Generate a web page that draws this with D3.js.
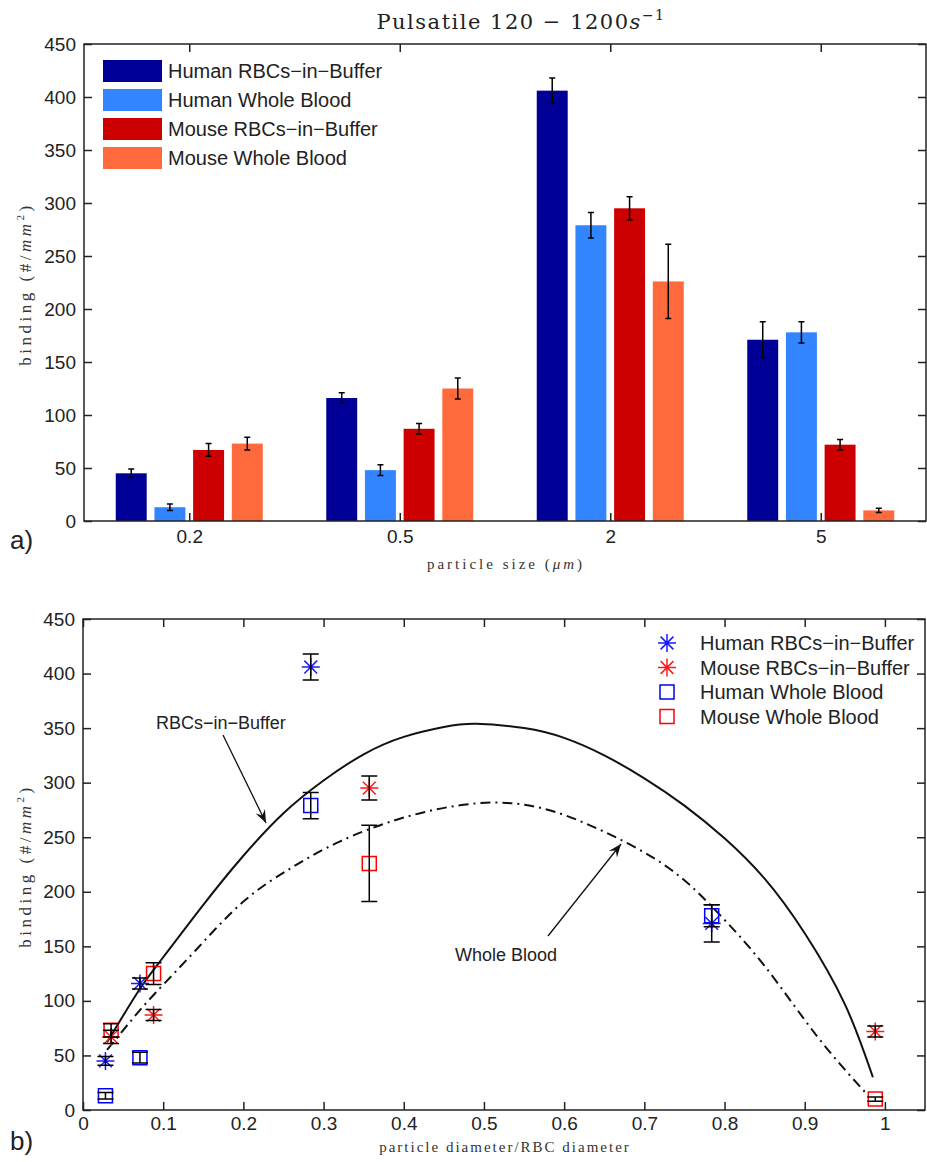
<!DOCTYPE html>
<html>
  <head>
    <meta charset="UTF-8" />
    <style>
      body { margin: 0; background: #fff; }
      svg { display: block; }
      .tick text { font-family: "Liberation Sans", Arial, sans-serif; font-size: 19px; fill: #222; }
      .lbl { font-family: "Liberation Serif", "DejaVu Serif", serif; fill: #333; }
      .sans { font-family: "Liberation Sans", Arial, sans-serif; fill: #222; }
    </style>
  </head>
  <body>
    <svg></svg>
    <script src="https://d3js.org/d3.v7.min.js"></script>
    <script>
      let width = 927,
        height = 1162;

      // data: particle sizes and binding per group (panel a)
      const sizes = ["0.2", "0.5", "2", "5"];
      const series = [
        "Human RBCs\u2212in\u2212Buffer",
        "Human Whole Blood",
        "Mouse RBCs\u2212in\u2212Buffer",
        "Mouse Whole Blood",
      ];
      const humanRBC = [45, 116, 406, 171];
      const humanRBCErr = [4, 5, 12, 17];
      const humanWB = [13, 48, 279, 178];
      const humanWBErr = [3, 5, 12, 10];
      const mouseRBC = [67, 87, 295, 72];
      const mouseRBCErr = [6, 5, 11, 5];
      const mouseWB = [73, 125, 226, 10];
      const mouseWBErr = [6, 10, 35, 2];

      // panel b: particle diameter / RBC diameter
      const humanRatio = [0.028, 0.071, 0.284, 0.784];
      const mouseRatio = [0.035, 0.088, 0.357, 0.988];

      // fitted curves
      const rbcFitX = [0.03, 0.07, 0.1, 0.15, 0.2, 0.25, 0.3, 0.35, 0.4, 0.45, 0.49, 0.55, 0.6, 0.65, 0.7, 0.75, 0.8, 0.85, 0.9, 0.95, 0.985];
      const rbcFitY = [62, 110, 140, 188, 233, 272, 302, 326, 342, 351, 354, 350, 341, 325, 304, 279, 249, 212, 162, 97, 30];
      const wbFitX = [0.03, 0.06, 0.09, 0.14, 0.2, 0.26, 0.32, 0.4, 0.49, 0.57, 0.65, 0.73, 0.79, 0.85, 0.915, 0.977];
      const wbFitY = [55, 82, 107, 146, 191, 222, 246, 268, 281, 277, 255, 222, 182, 132, 68, 15];

      const yTicks = [0, 50, 100, 150, 200, 250, 300, 350, 400, 450];
      const xTicksB = [0, 0.1, 0.2, 0.3, 0.4, 0.5, 0.6, 0.7, 0.8, 0.9, 1];

      const barColors = ["#000096", "#3385ff", "#cc0000", "#ff6a3d"];
      const barVals = [humanRBC, humanWB, mouseRBC, mouseWB];
      const barErrs = [humanRBCErr, humanWBErr, mouseRBCErr, mouseWBErr];

      let svg = d3.select("svg").attr("width", width).attr("height", height);

      // ---------- panel a ----------
      const xA = d3.scalePoint().domain(sizes).range([84, 926]).padding(0.5);
      const xInner = d3.scaleBand().domain(series).range([-73.5, 73.5]).paddingInner(0.2);
      const yA = d3.scaleLinear().domain([0, 450]).range([521, 44]);

      let gA = svg.append("g");
      series.forEach((s, si) => {
        let g = gA.append("g");
        g.selectAll("rect")
          .data(sizes)
          .enter()
          .append("rect")
          .attr("x", (d) => xA(d) + xInner(s))
          .attr("width", xInner.bandwidth())
          .attr("y", (d, i) => yA(barVals[si][i]))
          .attr("height", (d, i) => yA(0) - yA(barVals[si][i]))
          .attr("fill", barColors[si]);
        // error bars
        g.selectAll("path")
          .data(sizes)
          .enter()
          .append("path")
          .attr("d", (d, i) => {
            let cx = xA(d) + xInner(s) + xInner.bandwidth() / 2;
            let t = yA(barVals[si][i] + barErrs[si][i]);
            let b = yA(barVals[si][i] - barErrs[si][i]);
            return `M${cx},${t}V${b}M${cx - 3},${t}H${cx + 3}M${cx - 3},${b}H${cx + 3}`;
          })
          .attr("stroke", "#000")
          .attr("stroke-width", 1.5)
          .attr("fill", "none");
      });

      function box(x0, x1, y0, y1) {
        svg.append("rect")
          .attr("x", x0).attr("y", y0)
          .attr("width", x1 - x0).attr("height", y1 - y0)
          .attr("fill", "none").attr("stroke", "#222").attr("stroke-width", 1.5);
      }

      svg.append("g").attr("transform", "translate(84,0)")
        .call(d3.axisLeft(yA).tickValues(yTicks).tickSize(-8).tickPadding(8))
        .call((g) => g.select(".domain").remove());
      svg.append("g").attr("transform", "translate(926,0)")
        .call(d3.axisRight(yA).tickValues(yTicks).tickSize(-8).tickFormat(""))
        .call((g) => g.select(".domain").remove());
      svg.append("g").attr("transform", "translate(0,521)")
        .call(d3.axisBottom(xA).tickSize(-8).tickPadding(9))
        .call((g) => g.select(".domain").remove());
      svg.append("g").attr("transform", "translate(0,44)")
        .call(d3.axisTop(xA).tickSize(-8).tickFormat(""))
        .call((g) => g.select(".domain").remove());
      box(84, 926, 44, 521);
      svg.selectAll(".tick line").attr("stroke", "#222").attr("stroke-width", 1.5);

      // legend a
      let legA = svg.append("g");
      series.forEach((s, i) => {
        legA.append("rect")
          .attr("x", 103).attr("y", 60 + i * 29)
          .attr("width", 59).attr("height", 22)
          .attr("fill", barColors[i]);
        legA.append("text").attr("class", "sans")
          .attr("x", 168).attr("y", 71 + i * 29)
          .attr("dominant-baseline", "central")
          .style("font-size", "20px")
          .text(s);
      });

      // title
      let title = svg.append("text").attr("x", 521).attr("y", 29)
        .attr("text-anchor", "middle")
        .style("font-family", "'DejaVu Serif', serif")
        .style("letter-spacing", "1.5px")
        .style("font-size", "21px").style("fill", "#222");
      title.append("tspan").text("Pulsatile 120 \u2212 1200");
      title.append("tspan").style("font-style", "italic").text("s");
      title.append("tspan").attr("dy", -9).style("font-size", "14px").text("\u22121");

      // axis labels a
      let xlA = svg.append("text").attr("class", "lbl").attr("x", 506).attr("y", 569)
        .attr("text-anchor", "middle").style("font-size", "15px").style("letter-spacing", "3px");
      xlA.append("tspan").text("particle size (");
      xlA.append("tspan").style("font-style", "italic").text("\u03bcm");
      xlA.append("tspan").text(")");

      function yLabel(cy) {
        let t = svg.append("text").attr("class", "lbl")
          .attr("transform", `translate(31,${cy}) rotate(-90)`)
          .attr("text-anchor", "middle").style("font-size", "17px").style("letter-spacing", "3.5px");
        t.append("tspan").text("binding (#/");
        t.append("tspan").style("font-style", "italic").text("mm");
        t.append("tspan").attr("dy", -7).style("font-size", "11px").text("2");
        t.append("tspan").attr("dy", 7).text(")");
      }
      yLabel(284);

      svg.append("text").attr("class", "sans").attr("x", 10).attr("y", 549)
        .style("font-size", "26px").text("a)");

      // ---------- panel b ----------
      const xB = d3.scaleLinear().domain([0, 1.05]).range([83, 925]);
      const yB = d3.scaleLinear().domain([0, 450]).range([1110, 619]);

      const line = d3.line().curve(d3.curveNatural)
        .x((d) => xB(d[0])).y((d) => yB(d[1]));

      svg.append("path")
        .attr("d", line(d3.zip(rbcFitX, rbcFitY)))
        .attr("fill", "none").attr("stroke", "#111").attr("stroke-width", 2);
      svg.append("path")
        .attr("d", line(d3.zip(wbFitX, wbFitY)))
        .attr("fill", "none").attr("stroke", "#111").attr("stroke-width", 2)
        .attr("stroke-dasharray", "10,5,2,5");

      const points = [
        { name: series[0], x: humanRatio, y: humanRBC, e: humanRBCErr, color: "#1a1aff", marker: "star" },
        { name: series[2], x: mouseRatio, y: mouseRBC, e: mouseRBCErr, color: "#ff1a1a", marker: "star" },
        { name: series[1], x: humanRatio, y: humanWB, e: humanWBErr, color: "#0000ff", marker: "square" },
        { name: series[3], x: mouseRatio, y: mouseWB, e: mouseWBErr, color: "#ff0000", marker: "square" },
      ];

      function markerPath(type, cx, cy) {
        if (type == "square") {
          return `M${cx - 7},${cy - 7}h14v14h-14Z`;
        }
        let r = 9, a = 6.4;
        return `M${cx - r},${cy}H${cx + r}M${cx},${cy - r}V${cy + r}M${cx - a},${cy - a}L${cx + a},${cy + a}M${cx - a},${cy + a}L${cx + a},${cy - a}`;
      }

      let gB = svg.append("g");
      points.forEach((p) => {
        gB.append("g").selectAll("path")
          .data(p.y)
          .enter()
          .append("path")
          .attr("d", (d, i) => markerPath(p.marker, xB(p.x[i]), yB(d)))
          .attr("fill", "none").attr("stroke", p.color).attr("stroke-width", 1.5);
      });
      points.forEach((p) => {
        gB.append("g").selectAll("path")
          .data(p.y)
          .enter()
          .append("path")
          .attr("d", (d, i) => {
            let cx = xB(p.x[i]);
            let t = yB(d + p.e[i]), b = yB(d - p.e[i]);
            return `M${cx},${t}V${b}M${cx - 8},${t}H${cx + 8}M${cx - 8},${b}H${cx + 8}`;
          })
          .attr("fill", "none").attr("stroke", "#000").attr("stroke-width", 1.5);
      });

      svg.append("g").attr("transform", "translate(83,0)")
        .call(d3.axisLeft(yB).tickValues(yTicks).tickSize(-8).tickPadding(8))
        .call((g) => g.select(".domain").remove());
      svg.append("g").attr("transform", "translate(925,0)")
        .call(d3.axisRight(yB).tickValues(yTicks).tickSize(-8).tickFormat(""))
        .call((g) => g.select(".domain").remove());
      svg.append("g").attr("transform", "translate(0,1110)")
        .call(d3.axisBottom(xB).tickValues(xTicksB).tickSize(-8).tickPadding(7).tickFormat(d3.format("~g")))
        .call((g) => g.select(".domain").remove());
      svg.append("g").attr("transform", "translate(0,619)")
        .call(d3.axisTop(xB).tickValues(xTicksB).tickSize(-8).tickFormat(""))
        .call((g) => g.select(".domain").remove());
      box(83, 925, 619, 1110);
      svg.selectAll(".tick line").attr("stroke", "#222").attr("stroke-width", 1.5);

      // legend b
      let legB = svg.append("g");
      points.forEach((p, i) => {
        legB.append("path")
          .attr("d", markerPath(p.marker, 667, 643 + i * 24.5))
          .attr("fill", "none").attr("stroke", p.color).attr("stroke-width", 1.5);
        legB.append("text").attr("class", "sans")
          .attr("x", 700).attr("y", 643 + i * 24.5)
          .attr("dominant-baseline", "central")
          .style("font-size", "20px")
          .text(p.name);
      });

      // annotations
      function arrow(x1, y1, x2, y2) {
        svg.append("line")
          .attr("x1", x1).attr("y1", y1).attr("x2", x2).attr("y2", y2)
          .attr("stroke", "#111").attr("stroke-width", 1.3);
        let ang = Math.atan2(y2 - y1, x2 - x1);
        let L = 14, w = 0.38;
        let p1 = [x2 - L * Math.cos(ang - w), y2 - L * Math.sin(ang - w)];
        let p2 = [x2 - L * Math.cos(ang + w), y2 - L * Math.sin(ang + w)];
        let pm = [x2 - L * 0.6 * Math.cos(ang), y2 - L * 0.6 * Math.sin(ang)];
        svg.append("path")
          .attr("d", `M${x2},${y2}L${p1[0]},${p1[1]}L${pm[0]},${pm[1]}L${p2[0]},${p2[1]}Z`)
          .attr("fill", "#111");
      }
      svg.append("text").attr("class", "sans").attr("x", 156).attr("y", 723)
        .attr("dominant-baseline", "central").style("font-size", "18px")
        .text("RBCs\u2212in\u2212Buffer");
      arrow(223, 735, 266, 823);
      svg.append("text").attr("class", "sans").attr("x", 455).attr("y", 955)
        .attr("dominant-baseline", "central").style("font-size", "18px")
        .text("Whole Blood");
      arrow(548, 936, 621, 844);

      svg.append("text").attr("class", "lbl").attr("x", 505).attr("y", 1152)
        .attr("text-anchor", "middle").style("font-size", "15px").style("letter-spacing", "2px")
        .text("particle diameter/RBC diameter");
      yLabel(866);

      svg.append("text").attr("class", "sans").attr("x", 10).attr("y", 1150)
        .style("font-size", "26px").text("b)");
    </script>
  </body>
</html>
